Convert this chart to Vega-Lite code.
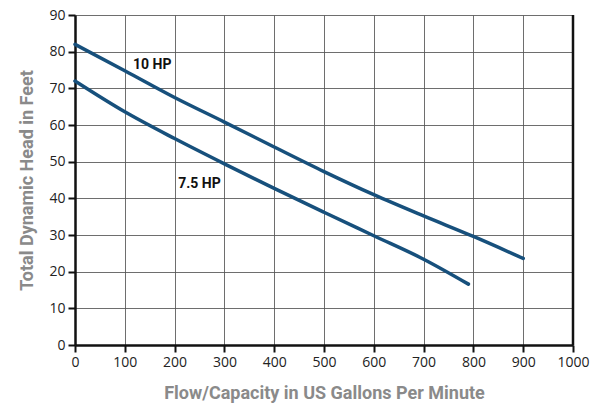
{
  "$schema": "https://vega.github.io/schema/vega-lite/v6.json",
  "width": 498,
  "height": 330,
  "autosize": {"type": "none"},
  "padding": {"left": 75, "top": 15, "right": 17, "bottom": 66},
  "background": "white",
  "config": {
    "view": {"stroke": null},
    "axis": {
      "grid": true, "gridColor": "#555", "gridWidth": 1, "gridOpacity": 0.85,
      "domainColor": "#111", "domainWidth": 2.5,
      "tickColor": "#111", "tickWidth": 2, "tickSize": 7,
      "labelFont": "Open Sans", "labelFontSize": 14, "labelColor": "#222", "labelPadding": 3,
      "labelOverlap": false, "labelFlush": false,
      "titleFont": "Roboto", "titleFontSize": 18, "titleFontWeight": "bold", "titleColor": "#8a8a8a"
    }
  },
  "datasets": {
    "curves": [
      {"flow": 0, "head": 82, "pump": "10 HP"},
      {"flow": 100, "head": 74.8, "pump": "10 HP"},
      {"flow": 200, "head": 67.5, "pump": "10 HP"},
      {"flow": 300, "head": 60.8, "pump": "10 HP"},
      {"flow": 400, "head": 54, "pump": "10 HP"},
      {"flow": 500, "head": 47.3, "pump": "10 HP"},
      {"flow": 600, "head": 41, "pump": "10 HP"},
      {"flow": 700, "head": 35.2, "pump": "10 HP"},
      {"flow": 800, "head": 29.6, "pump": "10 HP"},
      {"flow": 900, "head": 23.6, "pump": "10 HP"},
      {"flow": 0, "head": 72, "pump": "7.5 HP"},
      {"flow": 100, "head": 63.6, "pump": "7.5 HP"},
      {"flow": 200, "head": 56.3, "pump": "7.5 HP"},
      {"flow": 300, "head": 49.4, "pump": "7.5 HP"},
      {"flow": 400, "head": 42.7, "pump": "7.5 HP"},
      {"flow": 500, "head": 36.2, "pump": "7.5 HP"},
      {"flow": 600, "head": 29.8, "pump": "7.5 HP"},
      {"flow": 700, "head": 23.4, "pump": "7.5 HP"},
      {"flow": 790, "head": 16.6, "pump": "7.5 HP"}
    ],
    "labels": [
      {"flow": 155, "head": 76.5, "text": "10 HP"},
      {"flow": 250, "head": 44, "text": "7.5 HP"}
    ],
    "border": [{"flow": 1000}]
  },
  "encoding": {
    "x": {
      "field": "flow", "type": "quantitative",
      "scale": {"domain": [0, 1000], "nice": false},
      "axis": {
        "title": "Flow/Capacity in US Gallons Per Minute",
        "values": [0, 100, 200, 300, 400, 500, 600, 700, 800, 900, 1000],
        "format": "d", "titlePadding": 15
      }
    }
  },
  "layer": [
    {
      "data": {"name": "curves"},
      "mark": {"type": "line", "color": "#17507c", "strokeWidth": 3.5, "strokeCap": "round", "interpolate": "monotone"},
      "encoding": {
        "y": {
          "field": "head", "type": "quantitative",
          "scale": {"domain": [0, 90], "nice": false},
          "axis": {
            "title": "Total Dynamic Head in Feet",
            "values": [0, 10, 20, 30, 40, 50, 60, 70, 80, 90],
            "format": "d", "titlePadding": 12
          }
        },
        "detail": {"field": "pump"}
      }
    },
    {
      "data": {"name": "labels"},
      "mark": {"type": "text", "font": "Roboto", "fontSize": 14, "fontWeight": "bold", "color": "#111", "align": "center", "baseline": "middle"},
      "encoding": {
        "y": {
          "field": "head", "type": "quantitative",
          "scale": {"domain": [0, 90], "nice": false},
          "axis": {
            "title": "Total Dynamic Head in Feet",
            "values": [0, 10, 20, 30, 40, 50, 60, 70, 80, 90],
            "format": "d", "titlePadding": 12
          }
        },
        "text": {"field": "text"}
      }
    },
    {
      "data": {"name": "border"},
      "mark": {"type": "rule", "color": "#111", "strokeWidth": 2.5},
      "encoding": {}
    }
  ]
}
